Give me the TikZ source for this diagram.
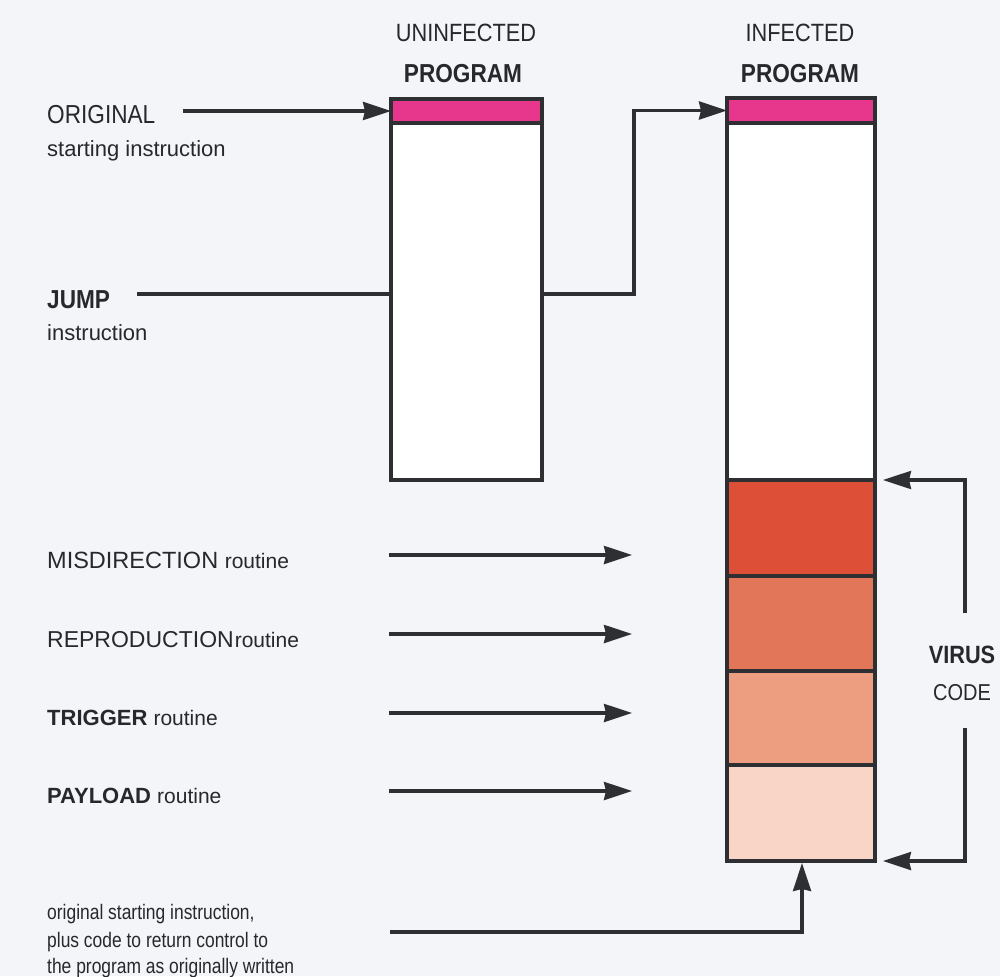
\documentclass[tikz,border=0pt]{standalone}
\usepackage{fontspec}
\setmainfont{Liberation Sans}
\newfontfamily\cond[FakeStretch=0.87]{Liberation Sans}
\newfontfamily\condsm[FakeStretch=0.83]{Liberation Sans}
\usetikzlibrary{arrows.meta,calc}
\definecolor{bgc}{RGB}{244,245,248}
\definecolor{pinkc}{RGB}{231,55,140}
\definecolor{redA}{RGB}{221,80,55}
\definecolor{redB}{RGB}{225,118,88}
\definecolor{redC}{RGB}{238,158,128}
\definecolor{redD}{RGB}{249,213,199}
\definecolor{linec}{RGB}{45,47,50}
\definecolor{textc}{RGB}{38,40,44}
\tikzset{
  blk/.style={draw=linec, line width=3.2pt, rectangle, inner sep=0pt, outer sep=0pt, anchor=north west, minimum width=#1},
  conn/.style={draw=linec, line width=3.2pt},
  arr/.style={conn, -{Stealth[length=28pt,width=18pt,inset=2pt]}},
  lbl/.style={anchor=base west, inner sep=0pt, text=textc},
  ttl/.style={anchor=base, inner sep=0pt, text=textc},
}
\begin{document}
\begin{tikzpicture}[x=1pt,y=-1pt]
\useasboundingbox (0,0) rectangle (1000,976);
\fill[bgc] (0,0) rectangle (1000,976);

% titles
\node[ttl] (tU1) at (466,42) {\cond\fontsize{25}{30}\selectfont UNINFECTED};
\node[ttl] (tU2) at (463,83) {\cond\fontsize{26}{30}\selectfont\bfseries PROGRAM};
\node[ttl] (tI1) at (800,42) {\cond\fontsize{25}{30}\selectfont INFECTED};
\node[ttl] (tI2) at (800,83) {\cond\fontsize{26}{30}\selectfont\bfseries PROGRAM};

% uninfected program
\node[blk=151pt, minimum height=24pt, fill=pinkc] (upk) at (391,99) {};
\node[blk=151pt, minimum height=357pt, fill=white] (ubody) at (391,123) {};

% infected program
\node[blk=148pt, minimum height=25pt, fill=pinkc] (ipk) at (727,98) {};
\node[blk=148pt, minimum height=357pt, fill=white] (ibody) at (727,123) {};
\node[blk=148pt, minimum height=96pt, fill=redA] (seg1) at (727,480) {};
\node[blk=148pt, minimum height=95pt, fill=redB] (seg2) at (727,576) {};
\node[blk=148pt, minimum height=94pt, fill=redC] (seg3) at (727,671) {};
\node[blk=148pt, minimum height=96pt, fill=redD] (seg4) at (727,765) {};

% left labels
\node[lbl] (lorig) at (47,124) {\cond\fontsize{26}{30}\selectfont ORIGINAL};
\node[lbl] (lorig2) at (47,157) {\fontsize{22}{26}\selectfont starting instruction};
\node[lbl] (ljump) at (47,308) {\cond\fontsize{26}{30}\selectfont\bfseries JUMP};
\node[lbl] (ljump2) at (47,340) {\fontsize{22}{26}\selectfont instruction};

\node[lbl] (lmis) at (47,568) {\fontsize{23.5}{28}\selectfont MISDIRECTION \fontsize{21}{26}\selectfont routine};
\node[lbl] (lrep) at (47,647) {\fontsize{23}{28}\selectfont REPRODUCTION\kern1pt\fontsize{21}{26}\selectfont routine};
\node[lbl] (ltrig) at (47,725) {\fontsize{22}{28}\selectfont\bfseries TRIGGER \mdseries\fontsize{21}{26}\selectfont routine};
\node[lbl] (lpay) at (47,803) {\fontsize{22}{28}\selectfont\bfseries PAYLOAD \mdseries\fontsize{21}{26}\selectfont routine};

\node[lbl] (lret1) at (47,919) {\condsm\fontsize{21}{24}\selectfont original starting instruction,};
\node[lbl] (lret2) at (47,947) {\condsm\fontsize{21}{24}\selectfont plus code to return control to};
\node[lbl] (lret3) at (47,973) {\condsm\fontsize{21}{24}\selectfont the program as originally written};

% virus code label
\node[ttl] (lvir) at (962,663) {\cond\fontsize{25}{30}\selectfont\bfseries VIRUS};
\node[ttl] (lcode) at (962,700) {\cond\fontsize{23}{30}\selectfont CODE};

% connectors
\coordinate (os) at (183,0);
\draw[arr] (os |- upk.west) -- (upk.west);

\coordinate (js) at (137,294);
\coordinate (jc) at (634,0);
\draw[conn] (js) -- (js -| ubody.west);
\draw[arr] (js -| ubody.east) -- (js -| jc) -- (ipk.west -| jc) -- (ipk.west);

\coordinate (r1) at (389,555);
\coordinate (r2) at (389,634);
\coordinate (r3) at (389,713);
\coordinate (r4) at (389,791);
\draw[arr, shorten >=95pt] (r1) -- (r1 -| seg1.west);
\draw[arr, shorten >=95pt] (r2) -- (r2 -| seg2.west);
\draw[arr, shorten >=95pt] (r3) -- (r3 -| seg3.west);
\draw[arr, shorten >=95pt] (r4) -- (r4 -| seg4.west);

\coordinate (bt) at (965,613);
\coordinate (bb) at (965,728);
\draw[arr] (bt) -- (bt |- seg1.north east) -- ([xshift=8pt]seg1.north east);
\draw[arr] (bb) -- (bb |- seg4.south east) -- ([xshift=8pt]seg4.south east);

\coordinate (rs) at (390,932);
\coordinate (rx) at (802,0);
\draw[arr, shorten >=2pt] (rs) -- (rs -| rx) -- (rx |- seg4.south);
\end{tikzpicture}
\end{document}
